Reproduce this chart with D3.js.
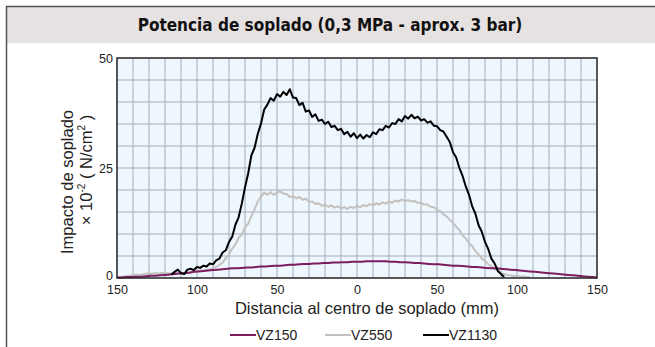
<!DOCTYPE html>
<html>
<head>
<meta charset="utf-8">
<script src="https://cdn.jsdelivr.net/npm/d3@7"></script>
<style>
  html, body { margin: 0; padding: 0; background: #fff; }
  svg { display: block; }
  text { font-family: "Liberation Sans", Arial, sans-serif; fill: #222; }
</style>
</head>
<body>
<svg id="chart" width="655" height="347"></svg>
<script>
// Blowing impact profile across the nozzle axis, three nozzle sizes
const title = "Potencia de soplado (0,3 MPa - aprox. 3 bar)";
const xLabel = "Distancia al centro de soplado (mm)";
const seriesNames = ["VZ150", "VZ550", "VZ1130"];
const xTicks = [-150, -100, -50, 0, 50, 100, 150];
const yTicks = [0, 25, 50];

// VZ150: samples every 3 mm from -150 to 150
const vz150Start = -150, vz150Step = 3;
const vz150 = [0.1,0.1,0.2,0.2,0.3,0.3,0.4,0.5,0.5,0.6,0.7,0.8,0.9,1.0,1.1,1.2,1.4,1.5,1.6,1.7,
  1.8,1.9,2.0,2.1,2.2,2.2,2.3,2.4,2.4,2.5,2.6,2.6,2.7,2.8,2.8,2.9,3.0,3.0,3.1,3.2,
  3.2,3.3,3.3,3.4,3.4,3.5,3.5,3.6,3.6,3.7,3.7,3.7,3.8,3.8,3.8,3.8,3.8,3.7,3.7,3.6,
  3.6,3.5,3.4,3.4,3.3,3.2,3.1,3.1,3.0,2.9,2.8,2.8,2.7,2.6,2.5,2.5,2.4,2.3,2.2,2.2,
  2.1,2.0,1.9,1.8,1.7,1.6,1.5,1.4,1.3,1.2,1.1,1.0,0.9,0.8,0.7,0.6,0.5,0.4,0.3,0.2,0.1];

// VZ550: samples every 2 mm from -150 to 108
const vz550Start = -150, vz550Step = 2;
const vz550 = [0.1,0.2,0.3,0.4,0.5,0.6,0.8,0.7,0.8,1.0,0.9,1.0,1.1,1.0,1.2,1.0,1.1,0.9,1.1,1.0,
  1.2,1.1,1.3,1.2,1.4,1.5,1.7,1.6,1.9,1.9,2.3,2.5,3.0,3.5,4.5,5.3,6.7,7.6,9.1,9.9,
  11.5,12.3,14.1,15.6,17.4,18.5,19.4,18.9,19.5,18.9,19.4,19.7,19.2,19.1,18.4,18.6,18.1,18.4,17.8,18.0,
  17.3,17.4,16.8,17.0,16.4,16.7,16.2,16.5,16.0,16.3,15.8,16.1,15.7,16.2,15.9,16.4,16.1,16.6,16.3,16.8,
  16.5,17.0,16.7,17.2,16.9,17.4,17.1,17.6,17.4,17.8,17.5,17.7,17.4,17.5,17.1,17.1,16.7,16.7,16.2,16.1,
  15.5,15.2,14.5,14.0,13.2,12.6,11.6,10.9,9.7,9.0,7.9,7.2,6.1,5.4,4.4,3.9,3.1,2.7,2.0,1.7,
  1.1,0.9,0.7,0.6,0.4,0.5,0.3,0.4,0.2,0.2];

// VZ1130: samples every 2 mm from -116 to 92
const vz1130Start = -116, vz1130Step = 2;
const vz1130 = [0.8,1.4,1.9,1.1,0.9,1.9,2.1,1.8,2.5,2.3,2.8,2.6,3.3,3.1,4.0,4.4,5.8,6.3,8.2,9.4,
  12.1,13.8,16.9,20.6,23.8,27.9,29.6,32.8,35.1,38.3,39.4,40.9,40.3,41.8,41.2,42.3,41.6,42.9,41.0,40.9,
  39.3,39.8,37.8,38.1,36.6,37.2,35.7,36.0,35.0,35.5,34.3,34.6,33.6,33.9,32.7,33.2,32.1,32.9,31.8,32.6,
  31.7,32.5,32.0,33.1,32.7,33.8,33.6,34.6,34.2,35.2,35.0,36.1,35.6,36.8,36.2,37.1,36.3,36.7,35.8,36.1,
  35.3,35.6,34.6,34.5,33.6,33.3,32.1,30.9,28.6,27.4,25.0,23.2,20.8,18.9,16.3,14.6,12.0,10.5,8.2,6.6,
  4.4,3.3,1.6,0.9,0.2];

const colors = ["#7b1d5e", "#c3c1be", "#000000"];

const svg = d3.select("#chart");
const W = 655, H = 347;
const plot = { left: 117, right: 597, top: 58, bottom: 278 };

// Frame and header band
svg.append("rect").attr("x", 7).attr("y", 7).attr("width", W - 7).attr("height", 36)
  .attr("fill", "#e7e2e2");
svg.append("line").attr("x1", 6).attr("x2", W).attr("y1", 6.5).attr("y2", 6.5)
  .attr("stroke", "#555").attr("stroke-width", 1.5);
svg.append("line").attr("x1", 6.5).attr("x2", 6.5).attr("y1", 6).attr("y2", H)
  .attr("stroke", "#555").attr("stroke-width", 1.5);
svg.append("text").attr("x", 330).attr("y", 31).attr("text-anchor", "middle")
  .style("font-family", "'DejaVu Sans Condensed', 'Liberation Sans Narrow', sans-serif")
  .style("font-weight", "bold").style("font-size", "17px").style("fill", "#111")
  .text(title);

const x = d3.scaleLinear().domain([-150, 150]).range([plot.left, plot.right]);
const y = d3.scaleLinear().domain([0, 50]).range([plot.bottom, plot.top]);

// Plot background and grid
svg.append("rect").attr("x", plot.left).attr("y", plot.top)
  .attr("width", plot.right - plot.left).attr("height", plot.bottom - plot.top)
  .attr("fill", "#eef6fe");
const grid = svg.append("g").attr("stroke", "#98a1ab").attr("stroke-width", 1).attr("opacity", 0.85);
grid.selectAll("line.v").data(d3.range(-140, 150, 10)).join("line")
  .attr("x1", d => x(d)).attr("x2", d => x(d)).attr("y1", plot.top).attr("y2", plot.bottom);
grid.selectAll("line.h").data(d3.range(5, 50, 5)).join("line")
  .attr("y1", d => y(d)).attr("y2", d => y(d)).attr("x1", plot.left).attr("x2", plot.right);

// Series
const series = [
  { name: seriesNames[0], start: vz150Start, step: vz150Step, values: vz150, color: colors[0] },
  { name: seriesNames[1], start: vz550Start, step: vz550Step, values: vz550, color: colors[1] },
  { name: seriesNames[2], start: vz1130Start, step: vz1130Step, values: vz1130, color: colors[2] }
];
const line = d3.line().x(d => x(d[0])).y(d => y(d[1]));
const drawOrder = [1, 0, 2];
svg.append("g").selectAll("path").data(drawOrder.map(i => series[i])).join("path")
  .attr("d", s => line(s.values.map((v, i) => [s.start + i * s.step, v])))
  .attr("fill", "none").attr("stroke", s => s.color).attr("stroke-width", 2)
  .attr("stroke-linejoin", "round");

// Plot border
svg.append("rect").attr("x", plot.left).attr("y", plot.top)
  .attr("width", plot.right - plot.left).attr("height", plot.bottom - plot.top)
  .attr("fill", "none").attr("stroke", "#222").attr("stroke-width", 1.5);

// Axes
const xAxis = svg.append("g").attr("transform", `translate(0,${plot.bottom})`)
  .call(d3.axisBottom(x).tickValues(xTicks).tickSize(0).tickPadding(7).tickFormat(d => Math.abs(d)));
xAxis.select(".domain").remove();
xAxis.selectAll("text").style("font-size", "12.5px").style("fill", "#222")
  .style("font-family", "'Liberation Sans', Arial, sans-serif");

const yAxis = svg.append("g").attr("transform", `translate(${plot.left},0)`)
  .call(d3.axisLeft(y).tickValues(yTicks).tickSize(0).tickPadding(4));
yAxis.select(".domain").remove();
yAxis.selectAll("text").style("font-size", "12.5px").style("fill", "#222")
  .style("font-family", "'Liberation Sans', Arial, sans-serif")
  .attr("dy", d => d === 0 ? "0.1em" : "0.32em");

// Axis titles
svg.append("text").attr("x", 367).attr("y", 314).attr("text-anchor", "middle")
  .style("font-size", "16.5px").text(xLabel);

svg.append("text").attr("transform", "translate(73,182) rotate(-90)")
  .attr("text-anchor", "middle").style("font-size", "16.5px").text("Impacto de soplado");
const yt2 = svg.append("text").attr("transform", "translate(92,170) rotate(-90)")
  .attr("text-anchor", "middle").style("font-size", "16.5px");
yt2.append("tspan").text("× 10");
yt2.append("tspan").attr("dy", -7).style("font-size", "10px").text("-2");
yt2.append("tspan").attr("dy", 7).text(" ( N/cm");
yt2.append("tspan").attr("dy", -7).style("font-size", "10px").text("2");
yt2.append("tspan").attr("dy", 7).text(" )");

// Legend
const legendX = [230, 325, 423];
const lg = svg.append("g").selectAll("g").data(series).join("g")
  .attr("transform", (d, i) => `translate(${legendX[i]},335)`);
lg.append("line").attr("x1", 0).attr("x2", 26).attr("y1", 0).attr("y2", 0)
  .attr("stroke", d => d.color).attr("stroke-width", 2);
lg.append("text").attr("x", 26).attr("y", 5).style("font-size", "14px").text(d => d.name);
</script>
</body>
</html>
